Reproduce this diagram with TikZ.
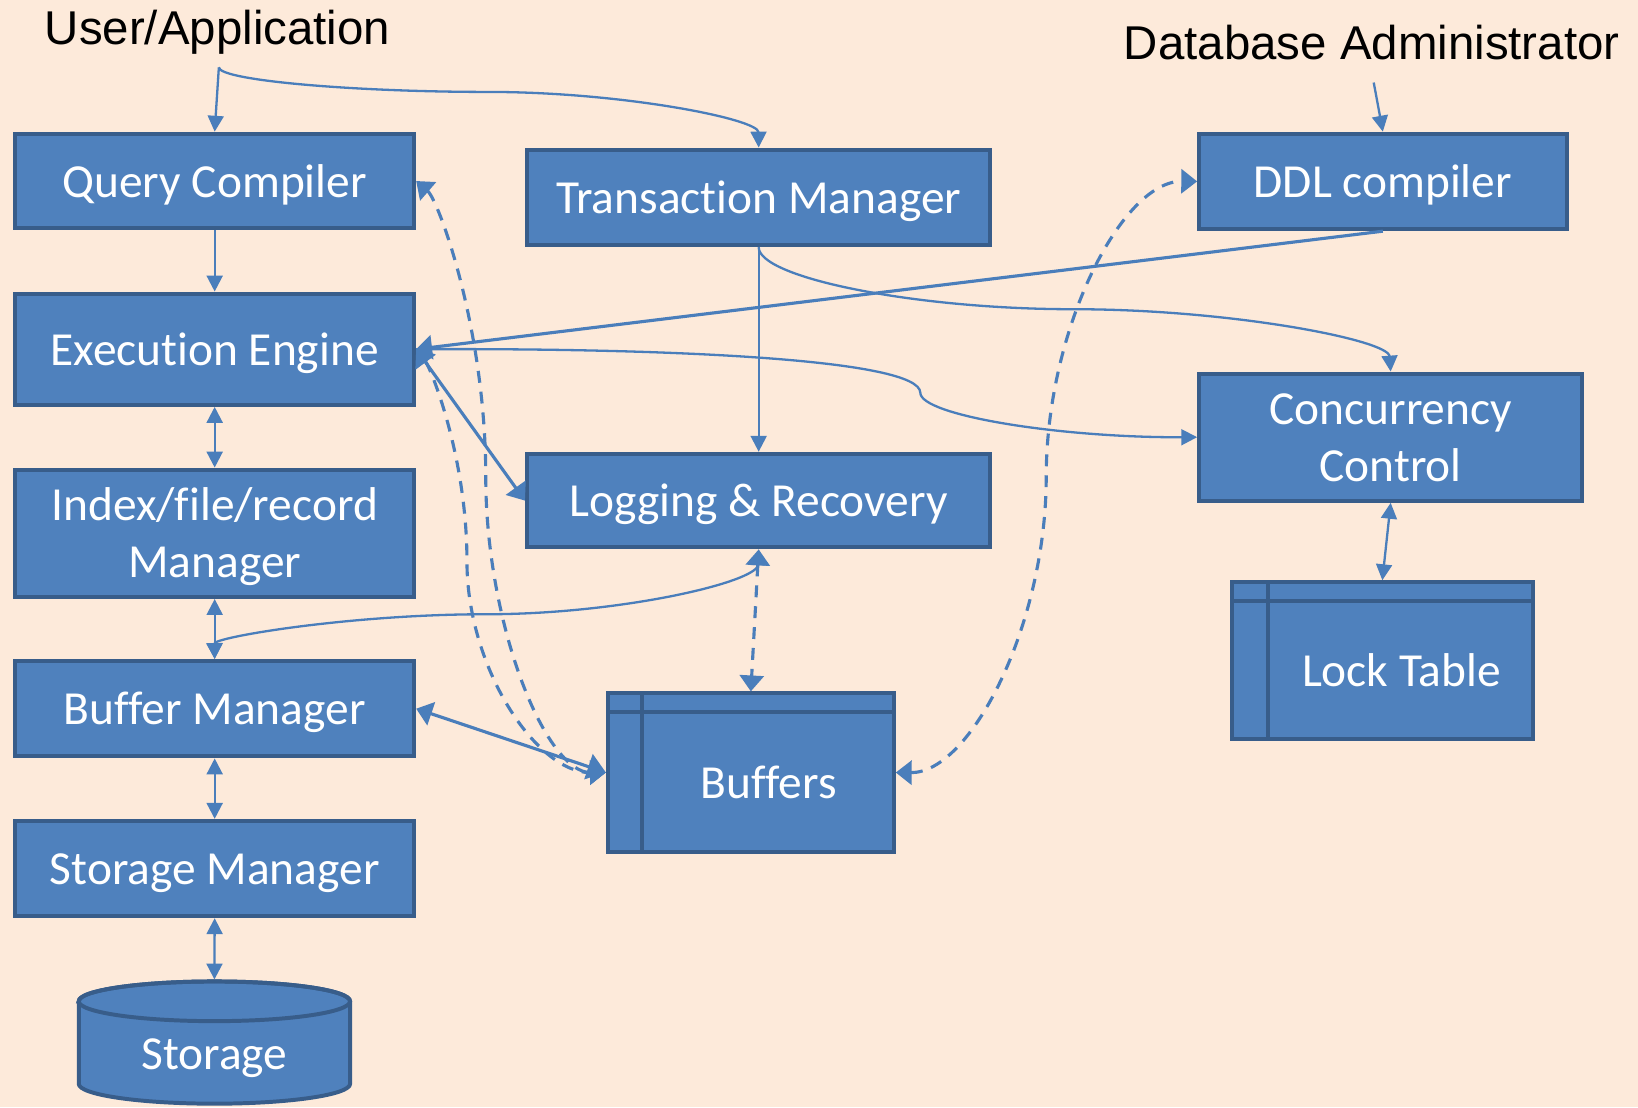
\documentclass[tikz,border=0pt]{standalone}
\usepackage{fontspec}
\setmainfont{Carlito}[Ligatures=NoCommon]
\newfontfamily\lblfont{Liberation Sans}
\usetikzlibrary{arrows.meta}
\definecolor{bgc}{RGB}{253,234,218}
\definecolor{boxfill}{RGB}{79,129,189}
\definecolor{boxborder}{RGB}{56,93,138}
\definecolor{linecol}{RGB}{74,126,187}
\tikzset{
  thintip/.tip={Triangle[length=7.6pt,width=7.6pt]},
  widetip/.tip={Triangle[length=7.6pt,width=11.5pt]},
  bigtip/.tip={Triangle[length=8.8pt,width=12.5pt]},
  box/.style={draw=boxborder, fill=boxfill, line width=1.9pt, text=white, inner sep=0pt,
    font=\fontsize{22.7pt}{27.5pt}\selectfont, text height=17.5pt, text depth=2pt},
  twoline/.style={align=center, text height=44.5pt, text depth=2pt},
  tablebox/.style={box, text height=26.5pt, text depth=2pt},
  tableline/.style={draw=boxborder, line width=1.9pt},
  lbl/.style={inner sep=0pt, font=\lblfont\fontsize{22.7pt}{27pt}\selectfont, text=black},
  thinline/.style={draw=linecol, line width=1.1pt},
  thickline/.style={draw=linecol, line width=1.5pt},
  dashline/.style={thickline, dash pattern=on 5.7pt off 4.3pt},
}
\begin{document}
\begin{tikzpicture}[x=0.5pt, y=-0.5pt]
\useasboundingbox (0,0) rectangle (1568,1059.7);
\fill[bgc] (0,0) rectangle (1568,1059.7);

% labels
\node[lbl, anchor=base west] (ua) at (42.5,43) {User/Application};
\node[lbl, anchor=base west] (dba) at (1075.5,57.4) {Database Administrator};
\coordinate (uafork) at (209.5,64.5);
\coordinate (dbaout) at (1315,79);

% left column
\node[box, minimum width=191pt, minimum height=45.35pt] (qc) at (205.5,173.3) {Query Compiler};
\node[box, minimum width=191pt, minimum height=53.3pt] (exec) at (205.5,334.3) {Execution Engine};
\node[box, twoline, minimum width=191pt, minimum height=61pt] (idx) at (205.5,510.5) {Index/file/record\\Manager};
\node[box, minimum width=191pt, minimum height=45.7pt] (bm) at (205.5,678.4) {Buffer Manager};
\node[box, minimum width=191pt, minimum height=45.65pt] (sm) at (205.5,831.4) {Storage Manager};

% storage cylinder
\path[fill=boxfill, draw=boxborder, line width=1.9pt]
  (75.4,958.5) -- (75.4,1037.5)
  arc[start angle=180, end angle=360, x radius=64.93pt, y radius=9.5pt]
  -- (335.1,958.5)
  arc[start angle=0, end angle=180, x radius=64.93pt, y radius=9.5pt] -- cycle;
\draw[boxborder, line width=1.9pt] (205.25,958.5) ellipse[x radius=64.93pt, y radius=9.5pt];
\node[inner sep=0pt, text=white, font=\fontsize{22.7pt}{27.5pt}\selectfont,
  text height=28.5pt, text depth=1.5pt, minimum width=129.85pt, minimum height=59.25pt]
  (st) at (205.25,997.25) {Storage};

% middle column
\node[box, minimum width=221.85pt, minimum height=45.75pt] (tm) at (726.25,188.9) {Transaction Manager};
\node[box, minimum width=221.85pt, minimum height=44.85pt] (lr) at (726.25,479.2) {Logging \& Recovery};
\node[tablebox, minimum width=136.85pt, minimum height=75.8pt] (buf) at (718.75,739.5) {\hspace*{17.25pt}Buffers};
\draw[tableline] (615,663.7) -- (615,815.3);
\draw[tableline] (581.9,682) -- (855.6,682);

% right column
\node[box, minimum width=175.85pt, minimum height=45.75pt] (ddl) at (1323.75,173.65) {DDL compiler};
\node[box, twoline, minimum width=183.35pt, minimum height=60.95pt] (cc) at (1331.25,418.5) {Concurrency\\Control};
\node[tablebox, minimum width=143.85pt, minimum height=75.15pt] (lock) at (1323.25,632.45) {\hspace*{18.25pt}Lock Table};
\draw[tableline] (1214,557.3) -- (1214,707.6);
\draw[tableline] (1179.4,575) -- (1467.1,575);

% connectors
\draw[thinline, -thintip] (uafork) -- (qc.north);
\draw[thinline, -thintip] (uafork) .. controls (210,77) and (339,88) .. (467,88)
  .. controls (596,88) and (726,114) .. (tm.north);
\draw[thinline, -thintip] (qc.south) -- (exec.north);
\draw[thinline, thintip-thintip] (exec.south) -- (idx.north);
\draw[thinline, thintip-thintip] (idx.south) -- (bm.north);
\draw[thinline, thintip-thintip] (bm.south) -- (sm.north);
\draw[thinline, thintip-thintip] (sm.south) -- (st.north);
\draw[thinline, -thintip] (tm.south) -- (lr.north);
\draw[thinline, -thintip] (tm.south) .. controls (726,266) and (876.75,296) .. (1027.5,296)
  .. controls (1178,296) and (1329,325.5) .. (cc.north);
\draw[thickline, -widetip] (ddl.south) -- (exec.east);
\draw[thinline, -thintip] (exec.east) .. controls (639.5,333) and (881,343.75) .. (881,376)
  .. controls (881,397.5) and (1013.5,419) .. (cc.west);
\draw[thickline, widetip-widetip] (exec.east) -- (lr.west);
\draw[dashline, widetip-widetip] (qc.east) .. controls (420,192) and (465,315) .. (465,456.5)
  .. controls (465,598) and (522.5,740) .. (buf.west);
\draw[dashline, widetip-widetip] (exec.east) .. controls (412,352) and (447,436) .. (447,537.5)
  .. controls (447,639) and (513.5,740) .. (buf.west);
\draw[thinline, thintip-thintip] (lr.south) .. controls (725,557) and (595,588) .. (465,588)
  .. controls (335,588) and (205,610) .. (bm.north);
\draw[dashline, widetip-widetip] (lr.south) -- (buf.north);
\draw[thickline, widetip-bigtip] (bm.east) -- (buf.west);
\draw[dashline, widetip-widetip] (buf.east) .. controls (929,740) and (1001.5,598) .. (1001.5,456.5)
  .. controls (1001.5,315) and (1074,173) .. (ddl.west);
\draw[thinline, -thintip] (dbaout) -- (ddl.north);
\draw[thinline, thintip-thintip] (cc.south) -- (lock.north);
\end{tikzpicture}
\end{document}
